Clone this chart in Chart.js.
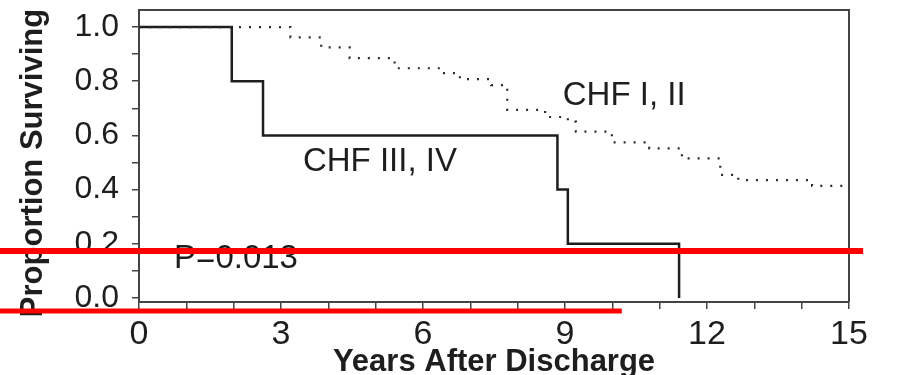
<!DOCTYPE html>
<html>
<head>
<meta charset="utf-8">
<title>Proportion Surviving</title>
<script src="https://cdn.jsdelivr.net/npm/chart.js@4/dist/chart.umd.min.js"></script>
<style>
    html, body { margin: 0; padding: 0; background: #fff; }
    canvas { display: block; }
</style>
</head>
<body>
<canvas id="survivalChart" width="913" height="375"></canvas>
<script>
// CHF III, IV (solid line)
const severeYears = [0, 1.96, 2.62, 8.84, 9.06, 11.41];
const severeSurvival = [1.0, 0.8, 0.6, 0.4, 0.2, 0.0];

// CHF I, II (dotted line)
const mildYears = [0, 3.2, 3.85, 4.45, 5.4, 6.42, 6.78, 7.44, 7.78, 8.58, 9.06, 9.23, 9.99, 10.78, 11.47, 12.28, 12.66, 14.22, 14.92];
const mildSurvival = [1.0, 0.962, 0.925, 0.885, 0.848, 0.83, 0.808, 0.786, 0.694, 0.668, 0.651, 0.614, 0.574, 0.552, 0.515, 0.454, 0.435, 0.414, 0.414];

// axis ticks
const xTicks = [0, 1, 2, 3, 4, 5, 6, 7, 8, 9, 10, 11, 12, 13, 14, 15];
const xTickLabels = [0, 3, 6, 9, 12, 15];
const yTicks = [0, 0.1, 0.2, 0.3, 0.4, 0.5, 0.6, 0.7, 0.8, 0.9, 1.0];
const yTickLabels = [0, 0.2, 0.4, 0.6, 0.8, 1.0];

const yTitle = 'Proportion Surviving';
const xTitle = 'Years After Discharge';

const INK = '#1e1e1e';
const FRAME = '#444';
const FONT = '"Liberation Sans", Arial, sans-serif';

// text placed inside the plot (data coordinates)
const notes = [
    { text: 'CHF I, II', x: 10.25, y: 0.745 },
    { text: 'CHF III, IV', x: 5.09, y: 0.502 },
    { text: 'P=0.013', x: 2.05, y: 0.144 }
];

// red marker strokes laid over the figure
const redMarks = [
    { y: 0.173, toX: 15.3, width: 6 },
    { y: -0.048, toX: 10.2, width: 5 }
];

function toPoints(xs, ys) {
    return xs.map((x, i) => ({ x: x, y: ys[i] }));
}

const overlayPlugin = {
    id: 'overlay',
    afterDatasetsDraw(chart) {
        const { ctx, chartArea, scales } = chart;
        ctx.save();
        // top and right frame lines
        ctx.strokeStyle = FRAME;
        ctx.lineWidth = 2;
        ctx.beginPath();
        ctx.moveTo(chartArea.left, chartArea.top);
        ctx.lineTo(chartArea.right, chartArea.top);
        ctx.lineTo(chartArea.right, chartArea.bottom);
        ctx.stroke();

        ctx.fillStyle = INK;
        ctx.font = '33px ' + FONT;
        ctx.textAlign = 'center';
        ctx.textBaseline = 'middle';
        notes.forEach(n => {
            ctx.fillText(n.text, scales.x.getPixelForValue(n.x), scales.y.getPixelForValue(n.y));
        });

        // y axis title, a little below the plot centre as in the figure
        ctx.font = 'bold 31px ' + FONT;
        ctx.translate(33, (chartArea.top + chartArea.bottom) / 2 + 7);
        ctx.rotate(-Math.PI / 2);
        ctx.fillText(yTitle, 0, 0);
        ctx.restore();
    },
    afterDraw(chart) {
        const { ctx, scales } = chart;
        ctx.save();
        ctx.strokeStyle = '#ff0000';
        redMarks.forEach(m => {
            const y = scales.y.getPixelForValue(m.y);
            ctx.lineWidth = m.width;
            ctx.beginPath();
            ctx.moveTo(0, y);
            ctx.lineTo(scales.x.getPixelForValue(m.toX), y);
            ctx.stroke();
        });
        ctx.restore();
    }
};

function sameValue(a, b) {
    return Math.abs(a - b) < 1e-9;
}

const ctx = document.getElementById('survivalChart').getContext('2d');
new Chart(ctx, {
    type: 'line',
    data: {
        datasets: [
            {
                label: 'CHF I, II',
                data: toPoints(mildYears, mildSurvival),
                borderColor: '#2a2a2a',
                borderWidth: 2.2,
                borderDash: [2, 8],
                stepped: true,
                pointRadius: 0,
                fill: false
            },
            {
                label: 'CHF III, IV',
                data: toPoints(severeYears, severeSurvival),
                borderColor: INK,
                borderWidth: 2.5,
                stepped: true,
                pointRadius: 0,
                fill: false
            }
        ]
    },
    options: {
        responsive: false,
        animation: false,
        devicePixelRatio: 1,
        layout: {
            padding: { left: 0, right: 64, top: 10, bottom: 0 }
        },
        plugins: {
            legend: { display: false },
            tooltip: { enabled: false }
        },
        scales: {
            x: {
                type: 'linear',
                min: 0,
                max: 15,
                afterBuildTicks: scale => {
                    scale.ticks = xTicks.map(v => ({ value: v }));
                },
                afterFit: scale => {
                    scale.height = 73;
                    scale.paddingLeft = 0;
                    scale.paddingRight = 0;
                },
                ticks: {
                    autoSkip: false,
                    maxRotation: 0,
                    padding: 5,
                    color: INK,
                    font: { family: FONT, size: 34 },
                    callback: value => xTickLabels.some(v => sameValue(v, value)) ? String(value) : ''
                },
                grid: {
                    drawOnChartArea: false,
                    drawTicks: true,
                    tickLength: 7,
                    tickColor: FRAME,
                    lineWidth: 1.5
                },
                border: { display: true, color: FRAME, width: 2 },
                title: {
                    display: true,
                    text: xTitle,
                    color: INK,
                    font: { family: FONT, size: 31, weight: 'bold', lineHeight: 1 },
                    padding: { top: 0, bottom: -3 }
                }
            },
            y: {
                type: 'linear',
                min: -0.015,
                max: 1.063,
                afterBuildTicks: scale => {
                    scale.ticks = yTicks.map(v => ({ value: v }));
                },
                afterFit: scale => {
                    scale.width = 139;
                    scale.paddingTop = 0;
                    scale.paddingBottom = 0;
                },
                ticks: {
                    autoSkip: false,
                    padding: 13,
                    color: INK,
                    font: { family: FONT, size: 32 },
                    callback: value => yTickLabels.some(v => sameValue(v, value)) ? value.toFixed(1) : ''
                },
                grid: {
                    drawOnChartArea: false,
                    drawTicks: true,
                    tickLength: 7,
                    tickColor: FRAME,
                    lineWidth: 1.5
                },
                border: { display: true, color: FRAME, width: 2 },
                title: { display: false }
            }
        }
    },
    plugins: [overlayPlugin]
});
</script>
</body>
</html>
